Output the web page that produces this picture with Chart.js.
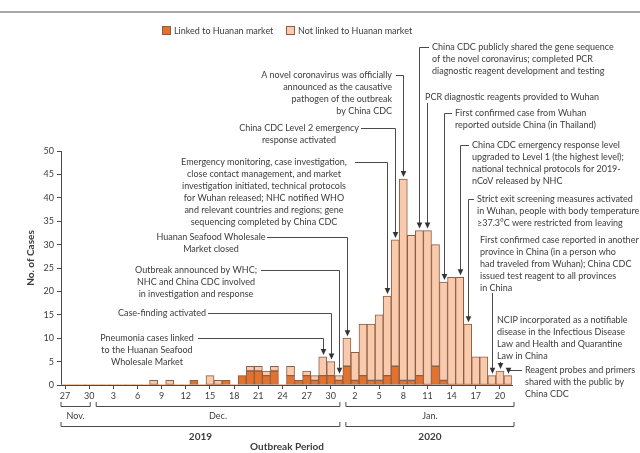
<!DOCTYPE html>
<html>
<head>
<meta charset="utf-8">
<script src="https://cdn.jsdelivr.net/npm/chart.js@4.4.0/dist/chart.umd.min.js"></script>
<style>
  html, body { margin: 0; padding: 0; background: #fff; }
</style>
</head>
<body>
<canvas id="curveChart" width="640" height="453"></canvas>
<script>
// one category per day of symptom onset, Nov 27 2019 .. Jan 21 2020
var categories = [
  'Nov 27', 'Nov 28', 'Nov 29', 'Nov 30',
  'Dec 1', 'Dec 2', 'Dec 3', 'Dec 4', 'Dec 5', 'Dec 6', 'Dec 7', 'Dec 8', 'Dec 9', 'Dec 10',
  'Dec 11', 'Dec 12', 'Dec 13', 'Dec 14', 'Dec 15', 'Dec 16', 'Dec 17', 'Dec 18', 'Dec 19', 'Dec 20',
  'Dec 21', 'Dec 22', 'Dec 23', 'Dec 24', 'Dec 25', 'Dec 26', 'Dec 27', 'Dec 28', 'Dec 29', 'Dec 30', 'Dec 31',
  'Jan 1', 'Jan 2', 'Jan 3', 'Jan 4', 'Jan 5', 'Jan 6', 'Jan 7', 'Jan 8', 'Jan 9', 'Jan 10',
  'Jan 11', 'Jan 12', 'Jan 13', 'Jan 14', 'Jan 15', 'Jan 16', 'Jan 17', 'Jan 18', 'Jan 19', 'Jan 20', 'Jan 21'
];

var linkedCases = [
  0, 0, 0, 0,
  0, 0, 0, 0, 0, 0, 0, 0, 0, 0,
  0, 0, 1, 0, 0, 0, 1, 0, 2, 3,
  3, 2, 3, 0, 2, 1, 2, 1, 2, 2, 1,
  4, 1, 2, 1, 1, 2, 4, 1, 1, 2,
  0, 4, 1, 0, 0, 0, 0, 0, 0, 0, 0
];

var notLinkedCases = [
  0, 0, 0, 0,
  0, 0, 0, 0, 0, 0, 0, 1, 0, 1,
  0, 0, 0, 0, 2, 1, 0, 0, 0, 1,
  1, 1, 1, 0, 2, 0, 1, 1, 4, 3, 1,
  6, 6, 11, 12, 14, 17, 27, 43, 31, 31,
  33, 26, 21, 23, 23, 13, 6, 6, 2, 3, 2
];

var seriesNames = ['Linked to Huanan market', 'Not linked to Huanan market'];
var yTicks = [0, 5, 10, 15, 20, 25, 30, 35, 40, 45, 50];

var monthGroups = [
  { label: 'Nov.', first: 'Nov 27', last: 'Nov 30' },
  { label: 'Dec.', first: 'Dec 1', last: 'Dec 31' },
  { label: 'Jan.', first: 'Jan 1', last: 'Jan 21' }
];
var yearGroups = [
  { label: '2019', first: 'Nov 27', last: 'Dec 31' },
  { label: '2020', first: 'Jan 1', last: 'Jan 21' }
];

// key events, keyed by the day the arrow points at
var events = [
  { day: 'Dec 29', text: ['Pneumonia cases linked', 'to the Huanan Seafood', 'Wholesale Market'] },
  { day: 'Dec 30', text: ['Case-finding activated'] },
  { day: 'Dec 31', text: ['Outbreak announced by WHC;', 'NHC and China CDC involved', 'in investigation and response'] },
  { day: 'Jan 1', text: ['Huanan Seafood Wholesale', 'Market closed'] },
  { day: 'Jan 6', text: ['Emergency monitoring, case investigation,', 'close contact management, and market', 'investigation initiated, technical protocols', 'for Wuhan released; NHC notified WHO', 'and relevant countries and regions; gene', 'sequencing completed by China CDC'] },
  { day: 'Jan 7', text: ['China CDC Level 2 emergency', 'response activated'] },
  { day: 'Jan 8', text: ['A novel coronavirus was officially', 'announced as the causative', 'pathogen of the outbreak', 'by China CDC'] },
  { day: 'Jan 10', text: ['China CDC publicly shared the gene sequence', 'of the novel coronavirus; completed PCR', 'diagnostic reagent development and testing'] },
  { day: 'Jan 11', text: ['PCR diagnostic reagents provided to Wuhan'] },
  { day: 'Jan 13', text: ['First confirmed case from Wuhan', 'reported outside China (in Thailand)'] },
  { day: 'Jan 15', text: ['China CDC emergency response level', 'upgraded to Level 1 (the highest level);', 'national technical protocols for 2019-', 'nCoV released by NHC'] },
  { day: 'Jan 16', text: ['Strict exit screening measures activated', 'in Wuhan, people with body temperature', '\u226537.3\u00B0C were restricted from leaving'] },
  { day: 'Jan 19', text: ['First confirmed case reported in another', 'province in China (in a person who', 'had traveled from Wuhan); China CDC', 'issued test reagent to all provinces', 'in China'] },
  { day: 'Jan 20', text: ['NCIP incorporated as a notifiable', 'disease in the Infectious Disease', 'Law and Health and Quarantine', 'Law in China'] },
  { day: 'Jan 21', text: ['Reagent probes and primers', 'shared with the public by', 'China CDC'] }
];

// where each note sits; lead = x where the elbow leader leaves the text, drop = y where a straight leader starts
var noteLayout = {
  'Dec 29': { x: 147, y: 338, align: 'center', lead: 198 },
  'Dec 30': { x: 162, y: 313, align: 'center', lead: 208 },
  'Dec 31': { x: 196, y: 270, align: 'center', lead: 261 },
  'Jan 1':  { x: 211, y: 237, align: 'center', lead: 267 },
  'Jan 6':  { x: 264, y: 162, align: 'center', lead: 355 },
  'Jan 7':  { x: 299, y: 128, align: 'center', lead: 361 },
  'Jan 8':  { x: 392, y: 75,  align: 'right',  lead: 396 },
  'Jan 10': { x: 432, y: 47,  align: 'left',   lead: 429 },
  'Jan 11': { x: 425, y: 97,  align: 'left',   drop: 103 },
  'Jan 13': { x: 455, y: 113, align: 'left',   lead: 452 },
  'Jan 15': { x: 472, y: 145, align: 'left',   lead: 469 },
  'Jan 16': { x: 477, y: 199, align: 'left',   lead: 474 },
  'Jan 19': { x: 480, y: 240, align: 'left',   drop: 293 },
  'Jan 20': { x: 497, y: 320, align: 'left',   drop: 362 },
  'Jan 21': { x: 525, y: 370, align: 'left',   lead: 522 }
};

var linkedColor = '#E3722C';
var notLinkedColor = '#F9CBAC';
var edgeColor = '#8A5E48';
var inkColor = '#3c3c3c';
var lineColor = '#4a4a4a';
var textFont = 'Lato, "Open Sans", sans-serif';

var extrasPlugin = {
  id: 'extras',
  afterDraw: function (chart) {
    var ctx = chart.ctx;
    var x = chart.scales.x;
    var y = chart.scales.y;
    var half = (x.getPixelForValue(1) - x.getPixelForValue(0)) / 2;

    ctx.save();

    // rule across the top
    ctx.strokeStyle = '#a8a8a8';
    ctx.lineWidth = 2;
    ctx.beginPath();
    ctx.moveTo(0, 12);
    ctx.lineTo(640, 12);
    ctx.stroke();

    // legend
    ctx.font = '9px ' + textFont;
    ctx.textBaseline = 'middle';
    ctx.textAlign = 'left';
    var legendX = [162, 286];
    chart.data.datasets.forEach(function (ds, i) {
      ctx.fillStyle = ds.backgroundColor;
      ctx.fillRect(legendX[i] + 0.5, 26.5, 8, 8);
      ctx.strokeStyle = edgeColor;
      ctx.lineWidth = 1;
      ctx.strokeRect(legendX[i] + 0.5, 26.5, 8, 8);
      ctx.fillStyle = inkColor;
      ctx.fillText(ds.label, legendX[i] + 12, 31);
    });

    // y title
    ctx.save();
    ctx.translate(31, 258);
    ctx.rotate(-Math.PI / 2);
    ctx.font = 'bold 10px ' + textFont;
    ctx.textAlign = 'center';
    ctx.fillStyle = inkColor;
    ctx.fillText('No. of Cases', 0, 0);
    ctx.restore();

    // month and year brackets under the axis
    function bracket(group, yy, inset) {
      var i0 = categories.indexOf(group.first);
      var i1 = categories.indexOf(group.last);
      var x0 = x.getPixelForValue(i0) - half + (i0 === 0 ? 0 : inset);
      var x1 = x.getPixelForValue(i1) + half - (i1 === categories.length - 1 ? -2 : inset);
      ctx.strokeStyle = lineColor;
      ctx.lineWidth = 1;
      ctx.beginPath();
      ctx.moveTo(x0, yy - 4);
      ctx.lineTo(x0, yy + 0.5);
      ctx.lineTo(x1, yy + 0.5);
      ctx.lineTo(x1, yy - 4);
      ctx.stroke();
      return (x0 + x1) / 2;
    }
    monthGroups.forEach(function (g) {
      var cx = bracket(g, 406, 3);
      ctx.font = '9px ' + textFont;
      ctx.textAlign = 'center';
      ctx.fillStyle = inkColor;
      ctx.fillText(g.label, cx, 416);
    });
    yearGroups.forEach(function (g) {
      var cx = bracket(g, 426, 3);
      ctx.font = 'bold 10px ' + textFont;
      ctx.textAlign = 'center';
      ctx.fillStyle = inkColor;
      ctx.fillText(g.label, cx, 437);
    });
    ctx.font = 'bold 10px ' + textFont;
    ctx.fillText('Outbreak Period', 287, 447);

    // event notes with leaders and arrowheads
    events.forEach(function (ev) {
      var lay = noteLayout[ev.day];
      var idx = categories.indexOf(ev.day);
      var bx = Math.round(x.getPixelForValue(idx)) + 0.5;
      var top = y.getPixelForValue(linkedCases[idx] + notLinkedCases[idx]);

      ctx.font = '9px ' + textFont;
      ctx.textAlign = lay.align;
      ctx.fillStyle = inkColor;
      ev.text.forEach(function (line, k) {
        ctx.fillText(line, lay.x, lay.y + k * 12);
      });

      ctx.strokeStyle = lineColor;
      ctx.lineWidth = 1;
      ctx.beginPath();
      if (lay.lead !== undefined) {
        ctx.moveTo(lay.lead, lay.y + 0.5);
        ctx.lineTo(bx, lay.y + 0.5);
      } else {
        ctx.moveTo(bx, lay.drop);
      }
      ctx.lineTo(bx, top - 7);
      ctx.stroke();

      ctx.fillStyle = '#333';
      ctx.beginPath();
      ctx.moveTo(bx - 2.8, top - 8);
      ctx.lineTo(bx + 2.8, top - 8);
      ctx.lineTo(bx, top - 2);
      ctx.closePath();
      ctx.fill();
    });

    ctx.restore();
  }
};

var ctx = document.getElementById('curveChart').getContext('2d');

var curveChart = new Chart(ctx, {
  type: 'bar',
  data: {
    labels: categories,
    datasets: [{
      label: seriesNames[0],
      data: linkedCases,
      backgroundColor: linkedColor,
      borderColor: edgeColor,
      borderWidth: function (c) { return c.raw ? 1 : 0; },
      borderSkipped: false
    }, {
      label: seriesNames[1],
      data: notLinkedCases,
      backgroundColor: notLinkedColor,
      borderColor: edgeColor,
      borderWidth: function (c) { return c.raw ? 1 : 0; },
      borderSkipped: false
    }]
  },
  options: {
    responsive: false,
    animation: false,
    devicePixelRatio: 1,
    barPercentage: 1,
    categoryPercentage: 1,
    layout: { padding: { left: 0, top: 151, right: 128, bottom: 48 } },
    plugins: {
      legend: { display: false },
      tooltip: { enabled: false }
    },
    scales: {
      x: {
        stacked: true,
        afterFit: function (s) { s.height = 20; },
        border: { display: true, color: lineColor, width: 1 },
        grid: {
          offset: false,
          drawOnChartArea: false,
          drawTicks: true,
          tickLength: 4,
          color: function (c) { return c.index % 3 === 0 ? lineColor : 'rgba(0,0,0,0)'; }
        },
        ticks: {
          autoSkip: false,
          maxRotation: 0,
          padding: 2,
          color: inkColor,
          font: { family: textFont, size: 9 },
          callback: function (v, i) { return i % 3 === 0 ? categories[i].split(' ')[1] : ''; }
        }
      },
      y: {
        stacked: true,
        min: 0,
        max: 50,
        afterFit: function (s) { s.width = 61; },
        afterBuildTicks: function (s) { s.ticks = yTicks.map(function (v) { return { value: v }; }); },
        border: { display: true, color: lineColor, width: 1 },
        grid: { drawOnChartArea: false, drawTicks: true, tickLength: 4, color: lineColor },
        ticks: {
          padding: 3,
          color: inkColor,
          font: { family: textFont, size: 9 }
        }
      }
    }
  },
  plugins: [extrasPlugin]
});
</script>
</body>
</html>
